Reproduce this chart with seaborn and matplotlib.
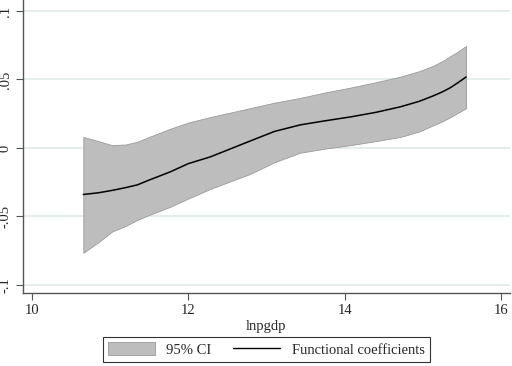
import numpy as np
import pandas as pd
import matplotlib
matplotlib.use("Agg")
import matplotlib.pyplot as plt
import matplotlib.patches as mpatches
from matplotlib.lines import Line2D
import seaborn as sns

# values
lnpgdp = [10.66, 10.85, 11.03, 11.2, 11.35, 11.5, 11.77, 12.0, 12.28, 12.79, 13.1,
          13.43, 13.75, 14.07, 14.4, 14.71, 14.95, 15.13, 15.25, 15.35, 15.45, 15.55]
coef = [-0.034, -0.0328, -0.031, -0.029, -0.027, -0.0235, -0.0175, -0.0115, -0.0066, 0.0050, 0.0120,
        0.0168, 0.0198, 0.0226, 0.0260, 0.030, 0.0340, 0.0380, 0.0410, 0.0440, 0.0478, 0.0518]
ci_upper = [0.008, 0.005, 0.002, 0.0025, 0.0045, 0.0080, 0.0140, 0.0185, 0.0225, 0.0290, 0.0330,
            0.0365, 0.0405, 0.0440, 0.0480, 0.0520, 0.0560, 0.0600, 0.0635, 0.0670, 0.0705, 0.0745]
ci_lower = [-0.0766, -0.069, -0.061, -0.057, -0.0526, -0.049, -0.043, -0.037, -0.030, -0.019, -0.0105,
            -0.0035, -0.0005, 0.0020, 0.0050, 0.0080, 0.0120, 0.0165, 0.0195, 0.0225, 0.0258, 0.029]

yticks = [-0.1, -0.05, 0, 0.05, 0.1]
ytick_labels = ['-.1', '-.05', '0', '.05', '.1']
xticks = [10, 12, 14, 16]

sns.set_style('white')
plt.rcParams['font.family'] = ['Liberation Serif', 'DejaVu Serif']

df = pd.DataFrame({'lnpgdp': lnpgdp, 'coef': coef})

fig = plt.figure(figsize=(5.12, 3.66), dpi=100)
ax = fig.add_axes([0.045, 0.2, 0.951, 0.8])

# grid
for yv in yticks:
    ax.axhline(yv, color='#e3ecec', lw=1.3, zorder=0)

ax.fill_between(lnpgdp, ci_lower, ci_upper, facecolor='#bdbdbd', edgecolor='#9a9a9a',
                lw=0.6, zorder=1)
sns.lineplot(data=df, x='lnpgdp', y='coef', color='black', lw=1.1, ax=ax, zorder=2)

ax.set_xlim(9.89, 16.11)
ax.set_ylim(-0.1058, 0.108)
ax.set_xticks(xticks)
ax.set_xticklabels([str(t) for t in xticks], fontsize=10.5)
ax.set_yticks(yticks)
ax.set_yticklabels(ytick_labels, fontsize=10.5, rotation=90, va='center')
ax.tick_params(axis='both', direction='out', length=5, width=0.8, color='#555555', pad=3,
               left=True, bottom=True)
ax.set_xlabel('lnpgdp', fontsize=10.5, labelpad=2)
ax.set_ylabel('')

for side in ['top', 'right']:
    ax.spines[side].set_visible(False)
for side in ['left', 'bottom']:
    ax.spines[side].set_color('#555555')
    ax.spines[side].set_linewidth(1.0)

handles = [mpatches.Patch(facecolor='#bdbdbd', edgecolor='#9a9a9a', lw=0.6),
           Line2D([0], [0], color='black', lw=1.0)]
leg = fig.legend(handles, ['95% CI', 'Functional coefficients'], loc='lower center',
                 bbox_to_anchor=(0.52, -0.008), ncol=2, fontsize=10.5, frameon=True,
                 fancybox=False, edgecolor='black', handlelength=3.2, handleheight=1.0,
                 columnspacing=1.5, borderpad=0.35)
leg.get_frame().set_linewidth(0.8)

fig.savefig('out.png', dpi=100)
